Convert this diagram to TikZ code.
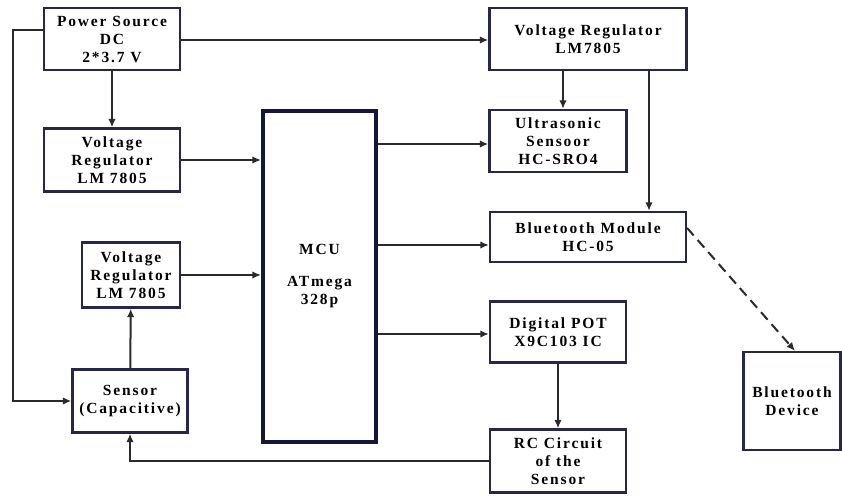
\documentclass[tikz,border=0pt]{standalone}
\usepackage{fontspec}
\setmainfont[LetterSpace=12]{Liberation Serif}
\usepackage{tikz}
\usetikzlibrary{arrows.meta,positioning}
\definecolor{BNavy}{HTML}{26264E}
\definecolor{MNavy}{HTML}{16163C}
\definecolor{AGray}{HTML}{2A2A2A}

\begin{document}
\begin{tikzpicture}[x=1pt,y=-1pt,
  b/.style={draw=BNavy,line width=2.2pt,fill=white,align=center,
    font=\fontsize{15.5}{18}\selectfont\bfseries,inner sep=1pt},
  mcu/.style={draw=MNavy,line width=4pt,fill=white,align=center,
    font=\fontsize{15.5}{18}\selectfont\bfseries},
  a/.style={-{Latex[length=3mm,width=2.6mm]},line width=2pt,color=AGray},
  d/.style={a,dash pattern=on 10pt off 6pt}
]
  \useasboundingbox (0,0) rectangle (842,495);
  \node[b,minimum width=136,minimum height=62] (pwr) at (112,39) {Power Source\\DC\\2*3.7 V};
  \node[b,minimum width=136,minimum height=63] (vr1) at (112,160) {Voltage\\Regulator\\LM 7805};
  \node[b,minimum width=98,minimum height=65] (vr2) at (131,275) {Voltage\\Regulator\\LM 7805};
  \node[b,minimum width=115,minimum height=63] (sen) at (130,401) {Sensor\\(Capacitive)};
  \node[mcu,minimum width=113,minimum height=331] (mcu) at (319.5,276.5) {MCU\\[14pt]ATmega\\328p};
  \node[b,minimum width=197,minimum height=62] (vr3) at (588,39) {Voltage Regulator\\LM7805};
  \node[b,minimum width=137,minimum height=62] (ult) at (558,141) {Ultrasonic\\Sensoor\\HC-SRO4};
  \node[b,minimum width=196,minimum height=50] (btm) at (588,237) {Bluetooth Module\\HC-05};
  \node[b,minimum width=136,minimum height=61] (pot) at (558,332) {Digital POT\\X9C103 IC};
  \node[b,minimum width=136,minimum height=63] (rc) at (558,461) {RC Circuit\\of the\\Sensor};
  \node[b,minimum width=97,minimum height=98] (btd) at (792,401) {Bluetooth\\Device};
  % power lines
  \draw[a] (pwr) -- (vr1);
  \draw[a] (pwr.east |- 0,40) -- (vr3.west |- 0,40);
  \draw[a] (pwr.west |- 0,30) -- (13,30) |- (sen.west);
  \draw[a] (sen) -- (vr2);
  \draw[a] (rc.west) -| (sen.south);
  % into / out of the MCU
  \foreach \n in {vr1,vr2}
    {\draw[a] (\n.east) -- (\n.east -| mcu.west);}
  \foreach \n/\y in {ult/144,btm/245,pot/334}
    {\draw[a] (mcu.east |- 0,\y) -- (\n.west |- 0,\y);}
  \draw[a] (vr3.south -| 563,0) -- (ult.north -| 563,0);
  \draw[a] (vr3.south -| 649,0) -- (btm.north -| 649,0);
  \draw[a] (pot) -- (rc);
  \draw[d] (btm.east |- 0,228) -- (btd.north -| 795,0);
\end{tikzpicture}
\end{document}
